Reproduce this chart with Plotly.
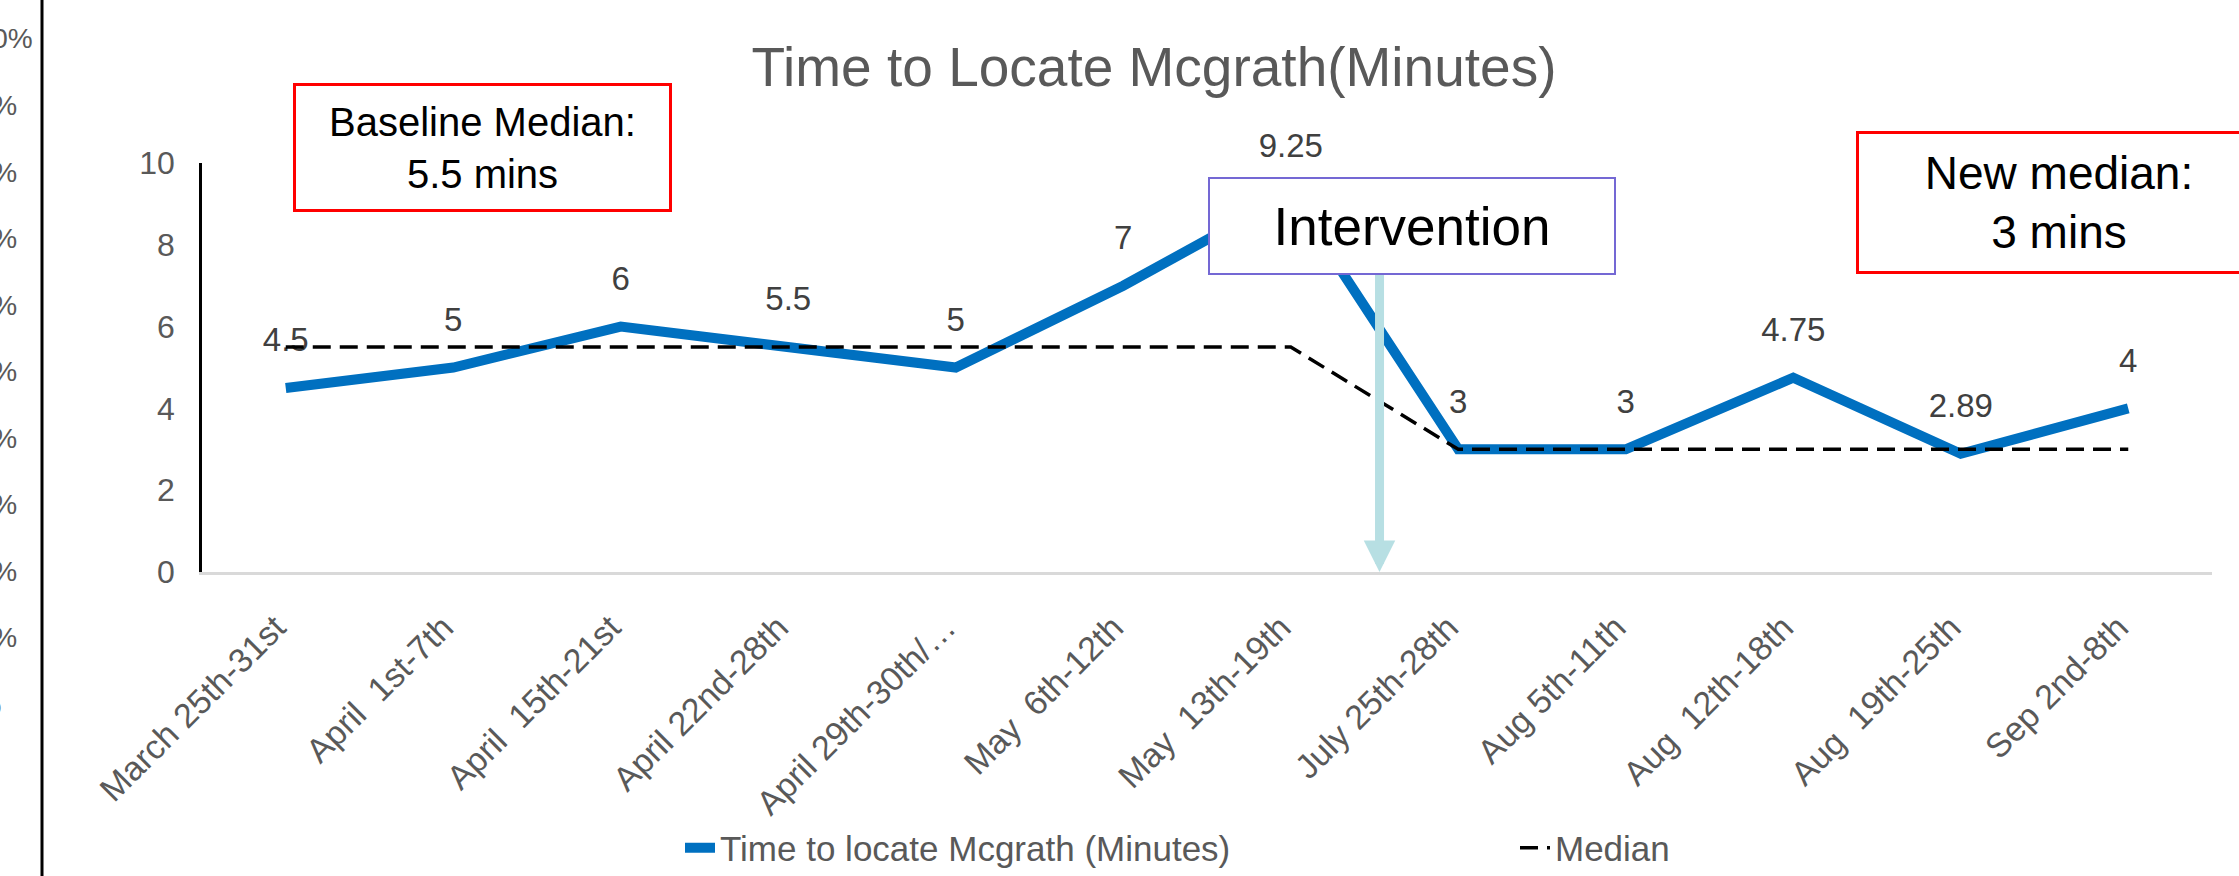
import plotly.graph_objects as go

# ---------------- data ----------------
categories = [
    "March 25th-31st", "April\u00a0 1st-7th", "April\u00a0 15th-21st", "April 22nd-28th",
    "April 29th-30th/\u2026", "May\u00a0 6th-12th", "May\u00a0 13th-19th", "July 25th-28th",
    "Aug 5th-11th", "Aug\u00a0 12th-18th", "Aug\u00a0 19th-25th", "Sep 2nd-8th",
]
time_to_locate = [4.5, 5, 6, 5.5, 5, 7, 9.25, 3, 3, 4.75, 2.89, 4]
median_values = [5.5, 5.5, 5.5, 5.5, 5.5, 5.5, 5.5, 3, 3, 3, 3, 3]
y_ticks = [0, 2, 4, 6, 8, 10]
left_pct_labels = ["100%", "90%", "80%", "70%", "60%", "50%", "40%", "30%", "20%", "10%", "0%"]
intervention_x = 6.53   # between "May 13th-19th" and "July 25th-28th"

# ---------------- layout geometry (pixels) ----------------
W, H = 2239, 876
L, R, T, B = 202, 27, 163, 304
PW, PH = W - L - R, H - T - B
FONT = "Liberation Sans, Arial, sans-serif"
GREY = "#595959"

def px_x(px):
    return (px - L) / PW

def px_y(py):
    return (H - B - py) / PH

fig = go.Figure()

fig.add_trace(go.Scatter(
    x=categories, y=time_to_locate, mode="lines",
    name="Time to locate Mcgrath (Minutes)", legend="legend",
    line=dict(color="#0070C0", width=10),
))
fig.add_trace(go.Scatter(
    x=categories, y=time_to_locate, mode="markers+text",
    text=[f"{v:g}" for v in time_to_locate], textposition="top center",
    textfont=dict(family=FONT, size=33, color="#404040"),
    marker=dict(size=44, color="rgba(0,0,0,0)"),
    showlegend=False, hoverinfo="skip", cliponaxis=False,
))
fig.add_trace(go.Scatter(
    x=categories, y=median_values, mode="lines", name="Median", legend="legend2",
    line=dict(color="black", width=3.5, dash="18px,9px"),
))

annotations = []
# intervention arrow
annotations.append(dict(
    x=intervention_x, y=0, xref="x", yref="y",
    ax=intervention_x, ay=7.6, axref="x", ayref="y",
    text="", showarrow=True, arrowhead=2, arrowsize=0.7, arrowwidth=9,
    arrowcolor="#b7dfe3", standoff=0,
))
# intervention box
annotations.append(dict(
    x=px_x(1412), y=px_y(226), xref="paper", yref="paper",
    xanchor="center", yanchor="middle", showarrow=False,
    text="Intervention", font=dict(family=FONT, size=53, color="black"),
    width=404, height=94, bgcolor="white", bordercolor="#7468d4", borderwidth=2, borderpad=0,
))
# baseline median box
annotations.append(dict(
    x=px_x(482.5), y=px_y(147.5), xref="paper", yref="paper",
    xanchor="center", yanchor="middle", showarrow=False,
    text="Baseline Median:<br>5.5 mins", font=dict(family=FONT, size=40, color="black"),
    width=373, height=123, bgcolor="white", bordercolor="#ff0000", borderwidth=3, borderpad=0,
))
# new median box
annotations.append(dict(
    x=px_x(2059), y=px_y(202.5), xref="paper", yref="paper",
    xanchor="center", yanchor="middle", showarrow=False,
    text="New median:<br>3 mins", font=dict(family=FONT, size=46, color="black"),
    width=400, height=137, bgcolor="white", bordercolor="#ff0000", borderwidth=3, borderpad=0,
))
# cut-off percentage labels at far left (from a neighbouring chart)
for i, lab in enumerate(left_pct_labels):
    annotations.append(dict(
        x=px_x(-41), y=px_y(39 + i * 66.5), xref="paper", yref="paper",
        xanchor="left", yanchor="middle", showarrow=False,
        text=lab, font=dict(family=FONT, size=28, color=GREY),
    ))

shapes = [dict(
    type="line", xref="paper", yref="paper",
    x0=px_x(42), x1=px_x(42), y0=px_y(H + 5), y1=px_y(-5),
    line=dict(color="black", width=3),
)]

legend_common = dict(
    orientation="h", xanchor="left", yanchor="middle", y=px_y(848),
    font=dict(family=FONT, size=35, color=GREY), bgcolor="rgba(0,0,0,0)",
)

fig.update_layout(
    width=W, height=H, autosize=False,
    margin=dict(l=L, r=R, t=T, b=B, pad=0, autoexpand=False),
    paper_bgcolor="white", plot_bgcolor="white",
    font=dict(family=FONT, color=GREY),
    title=dict(
        text="Time to Locate Mcgrath(Minutes)", x=1154 / W, xanchor="center",
        y=1 - 67 / H, yanchor="middle", xref="container", yref="container",
        font=dict(family=FONT, size=55, color=GREY),
    ),
    xaxis=dict(
        range=[-0.5, len(categories) - 0.5], showgrid=False, zeroline=False,
        showline=True, linecolor="#d9d9d9", linewidth=3, ticks="",
        tickangle=-45, tickfont=dict(family=FONT, size=34, color=GREY),
        categoryorder="array", categoryarray=categories, automargin=False,
        ticklabelstandoff=19, ticklabelshift=-10,
    ),
    yaxis=dict(
        range=[0, 10], tickvals=y_ticks, showgrid=False, zeroline=False,
        showline=True, linecolor="black", linewidth=2.5, ticks="",
        tickfont=dict(family=FONT, size=32, color=GREY), ticklabelstandoff=18,
        automargin=False,
    ),
    legend=dict(x=px_x(680), **legend_common),
    legend2=dict(x=px_x(1515), **legend_common),
    annotations=annotations, shapes=shapes, showlegend=True,
)

fig.write_html("out.html", config={"displayModeBar": False},
               post_script="document.body.style.margin='0';")
